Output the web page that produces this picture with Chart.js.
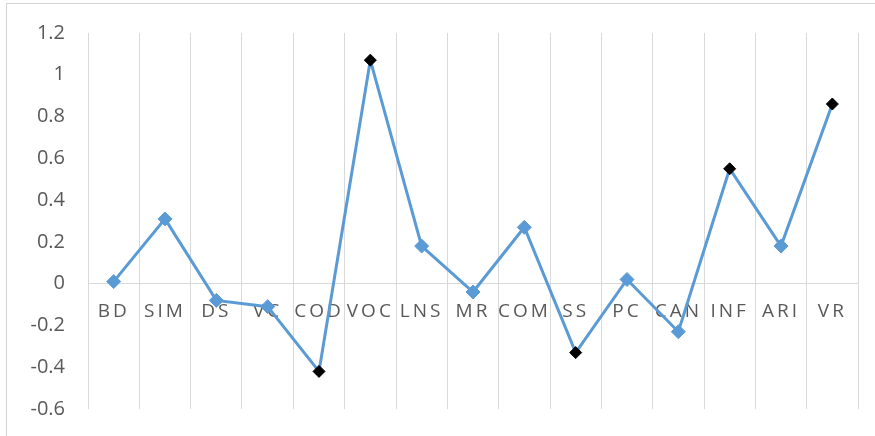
<!DOCTYPE html>
<html>
<head>
<meta charset="utf-8">
<script src="https://cdn.jsdelivr.net/npm/chart.js@4"></script>
<style>
  html, body { margin: 0; padding: 0; background: #fff; }
  .wrap { position: relative; width: 875px; height: 436px; }
  .frame { position: absolute; left: 6px; top: 3px; right: 0; bottom: 0;
           border-top: 1px solid #d4d4d4; border-left: 1px solid #d4d4d4; }
  canvas { position: absolute; left: 0; top: 0; }
</style>
</head>
<body>
<div class="wrap">
  <div class="frame"></div>
  <canvas id="scoreChart" width="875" height="436"></canvas>
</div>
<script>
// data
const categories = ["BD", "SIM", "DS", "VC", "COD", "VOC", "LNS", "MR", "COM", "SS", "PC", "CAN", "INF", "ARI", "VR"];
const scores = [0.01, 0.31, -0.08, -0.11, -0.42, 1.07, 0.18, -0.04, 0.27, -0.33, 0.02, -0.23, 0.55, 0.18, 0.86];
const highlighted = ["COD", "VOC", "SS", "INF", "VR"];
const yTicks = [-0.6, -0.4, -0.2, 0, 0.2, 0.4, 0.6, 0.8, 1, 1.2];

const blue = "#5B9BD5";
const isDark = categories.map(c => highlighted.includes(c));

//spaced out category labels, like the original
const spacedLabels = {
    id: "spacedLabels",
    afterUpdate(chart) {
        const x = chart.scales.x;
        const orig = x.drawLabels;
        x.drawLabels = function (area) {
            const ctx = chart.ctx;
            ctx.save();
            ctx.letterSpacing = "3px";
            orig.call(this, area);
            ctx.restore();
        };
    }
};

new Chart(document.getElementById("scoreChart"), {
    type: "line",
    data: {
        labels: categories,
        datasets: [{
            data: scores,
            borderColor: blue,
            borderWidth: 3,
            pointStyle: "rectRot",
            pointRadius: isDark.map(d => d ? 6 : 7),
            pointBackgroundColor: isDark.map(d => d ? "#000000" : blue),
            pointBorderColor: isDark.map(d => d ? "#000000" : blue),
            pointBorderWidth: 1,
            tension: 0
        }]
    },
    options: {
        responsive: false,
        animation: false,
        layout: {padding: {left: 0, top: 33, right: 17, bottom: 27}},
        plugins: {legend: {display: false}, tooltip: {enabled: false}},
        scales: {
            x: {
                position: {y: 0},
                offset: true,
                afterFit: scale => { scale.height = 0; },
                grid: {offset: true, color: "#d9d9d9", lineWidth: 1, drawTicks: false},
                border: {display: true, color: "#d9d9d9", width: 1},
                ticks: {color: "#595959", font: {family: "Open Sans", size: 19}, padding: 17, maxRotation: 0, autoSkip: false}
            },
            y: {
                min: yTicks[0],
                max: yTicks[yTicks.length - 1],
                afterBuildTicks: scale => { scale.ticks = yTicks.map(v => ({value: v})); },
                afterFit: scale => {
                    scale.width = 88;
                    scale.paddingTop = 0;
                    scale.paddingBottom = 0;
                },
                grid: {display: false, drawTicks: false},
                border: {display: false},
                ticks: {
                    color: "#595959",
                    font: {family: "Open Sans", size: 20},
                    padding: 23,
                    callback: v => String(+v.toFixed(1))
                }
            }
        }
    },
    plugins: [spacedLabels]
});
</script>
</body>
</html>
